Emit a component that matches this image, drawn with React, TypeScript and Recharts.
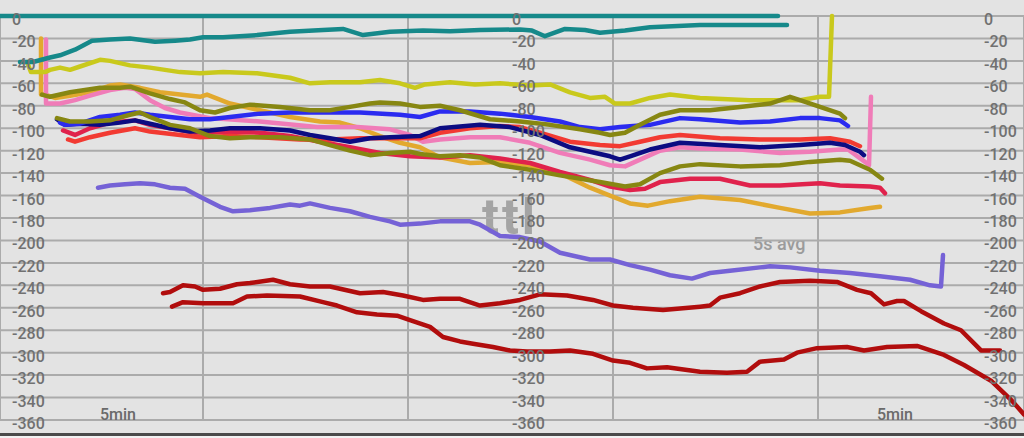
import { CartesianGrid, Line, LineChart, XAxis, YAxis } from 'recharts'

type Pt = [number, number]

// x = sample index across the strip, value = ttl
const yTicks = [0, -20, -40, -60, -80, -100, -120, -140, -160, -180, -200, -220, -240, -260, -280, -300, -320, -340, -360]
const xGridTicks = [203, 408, 613, 818]

const tealZero: Pt[] = [[0, 0], [778, 0]]
const teal: Pt[] = [[20, -41], [33, -41], [50, -37], [60, -35], [75, -30], [92, -22], [110, -21], [130, -20], [155, -23], [175, -22], [190, -21], [203, -19], [223, -19], [257, -17], [290, -14], [323, -12.5], [343, -11.5], [363, -17], [390, -14], [423, -13], [450, -13.5], [480, -12.5], [520, -12], [532, -13], [545, -18], [565, -11.5], [585, -12.5], [600, -15], [625, -13], [650, -10], [700, -8], [740, -8], [787, -8]]
const lime: Pt[] = [[27, -41], [31, -50], [45, -50], [50, -48], [60, -46], [70, -48], [80, -45], [100, -39], [110, -40], [130, -44], [150, -46], [180, -50], [200, -51], [223, -50], [257, -51], [290, -55], [310, -60], [330, -59], [360, -59], [380, -57], [400, -60], [415, -64], [425, -61], [450, -59], [475, -61], [500, -60], [530, -62], [550, -61], [570, -68], [590, -73], [605, -72], [615, -78], [630, -78], [650, -73], [670, -70], [700, -73], [750, -75], [800, -75], [820, -72], [829, -72], [832, 0]]
const gold: Pt[] = [[41, -20], [41, -70], [45, -70], [55, -73], [70, -71], [90, -68], [110, -62], [120, -61], [140, -64], [160, -68], [180, -70], [200, -72], [207, -70], [230, -78], [260, -84], [290, -90], [320, -94], [340, -95], [360, -100], [380, -107], [400, -113], [420, -117], [440, -126], [470, -131], [500, -130], [530, -133], [560, -140], [590, -153], [610, -160], [630, -167], [648, -169], [670, -165], [700, -161], [740, -164], [780, -171], [810, -176], [840, -175], [870, -171], [880, -170]]
const pink: Pt[] = [[46, -21], [46, -78], [50, -78], [60, -78], [75, -75], [90, -71], [110, -66], [125, -64], [135, -65], [150, -75], [165, -82], [180, -86], [210, -91], [260, -94], [317, -99], [357, -99], [390, -101], [410, -106], [423, -112], [440, -110], [470, -108], [500, -108], [530, -113], [560, -122], [590, -128], [610, -133], [625, -134], [640, -128], [660, -120], [680, -117], [700, -118], [740, -119], [780, -122], [810, -121], [840, -119], [848, -119], [865, -130], [869, -133], [871, -72]]
const oliveUpper: Pt[] = [[42, -70], [50, -72], [70, -68], [85, -66], [100, -64], [120, -64], [130, -63], [150, -69], [170, -74], [185, -77], [200, -84], [215, -86], [230, -82], [250, -79], [280, -81], [310, -84], [330, -84], [350, -81], [370, -78], [380, -77], [400, -78], [420, -81], [440, -80], [460, -84], [490, -92], [520, -94], [550, -97], [580, -101], [600, -104], [610, -106], [625, -104], [640, -97], [660, -88], [680, -84], [710, -84], [740, -81], [770, -78], [790, -72], [800, -75], [820, -81], [840, -87], [845, -91]]
const oliveLower: Pt[] = [[57, -91], [70, -94], [90, -94], [110, -93], [130, -88], [140, -86], [150, -90], [170, -97], [190, -100], [210, -107], [230, -109], [250, -108], [280, -108], [310, -110], [330, -115], [350, -120], [370, -124], [390, -122], [410, -121], [420, -123], [440, -125], [460, -124], [480, -126], [500, -133], [530, -137], [560, -142], [600, -148], [625, -152], [640, -150], [660, -140], [680, -134], [700, -132], [740, -134], [780, -133], [810, -130], [840, -128], [850, -129], [870, -137], [882, -145]]
const blue: Pt[] = [[60, -95], [65, -97], [80, -96], [100, -90], [120, -88], [135, -86], [150, -88], [170, -90], [190, -92], [210, -92], [230, -90], [260, -87], [290, -86], [330, -86], [360, -86], [400, -88], [420, -90], [440, -85], [470, -85], [500, -87], [530, -90], [560, -94], [580, -99], [600, -101], [620, -99], [650, -97], [680, -91], [700, -92], [740, -95], [770, -94], [800, -91], [820, -91], [840, -93], [848, -98]]
const navy: Pt[] = [[57, -92], [65, -97], [80, -96], [100, -97], [120, -95], [135, -93], [150, -96], [170, -100], [190, -103], [210, -102], [230, -100], [260, -100], [290, -102], [310, -106], [330, -109], [350, -112], [370, -109], [390, -108], [420, -107], [440, -100], [480, -97], [510, -99], [540, -106], [570, -117], [590, -121], [610, -125], [620, -128], [630, -125], [650, -119], [680, -113], [720, -115], [760, -117], [800, -115], [830, -113], [845, -115], [860, -121], [864, -124]]
const red: Pt[] = [[68, -110], [75, -112], [90, -108], [110, -104], [135, -100], [150, -103], [180, -106], [200, -108], [230, -107], [260, -108], [300, -110], [330, -110], [360, -109], [390, -109], [420, -109], [440, -104], [470, -100], [500, -98], [520, -99], [540, -104], [570, -112], [600, -115], [620, -116], [640, -112], [660, -108], [680, -106], [720, -109], [760, -110], [800, -110], [830, -109], [850, -112], [860, -116]]
const crimson: Pt[] = [[63, -102], [75, -106], [90, -100], [110, -95], [135, -93], [150, -97], [170, -100], [195, -104], [230, -103], [260, -104], [290, -107], [320, -112], [350, -117], [380, -122], [410, -125], [440, -126], [470, -124], [500, -127], [530, -131], [560, -139], [590, -146], [610, -152], [630, -155], [645, -154], [660, -148], [690, -145], [720, -145], [750, -151], [780, -151], [820, -149], [840, -151], [870, -152], [880, -153], [885, -158]]
const purple: Pt[] = [[98, -153], [110, -151], [125, -150], [140, -149], [155, -150], [170, -153], [185, -154], [200, -161], [220, -170], [233, -174], [250, -173], [270, -171], [290, -168], [300, -169], [310, -167], [330, -171], [350, -174], [370, -179], [390, -183], [400, -186], [420, -185], [440, -183], [470, -183], [480, -186], [490, -191], [500, -196], [520, -197], [540, -201], [560, -211], [590, -217], [610, -217], [630, -222], [650, -226], [670, -231], [692, -234], [710, -229], [730, -227], [760, -224], [770, -223], [790, -224], [820, -227], [850, -229], [880, -232], [910, -235], [930, -240], [941, -241], [943, -213]]
const darkRedUpper: Pt[] = [[163, -247], [170, -246], [183, -240], [195, -241], [203, -244], [220, -243], [237, -239], [250, -238], [273, -235], [290, -239], [310, -241], [330, -241], [340, -243], [360, -247], [383, -246], [403, -249], [423, -253], [440, -252], [460, -252], [480, -258], [500, -256], [520, -253], [540, -248], [567, -249], [593, -253], [613, -258], [633, -260], [663, -262], [700, -259], [710, -258], [720, -251], [740, -247], [760, -241], [780, -237], [810, -236], [837, -237], [857, -244], [871, -247], [884, -257], [897, -254], [904, -254], [921, -263], [944, -274], [961, -280], [981, -298], [1000, -298]]
const darkRedLower: Pt[] = [[172, -259], [183, -255], [203, -256], [233, -256], [247, -250], [267, -249], [300, -250], [323, -255], [337, -258], [357, -264], [377, -266], [397, -267], [410, -271], [430, -277], [443, -286], [460, -290], [473, -292], [493, -295], [510, -298], [527, -299], [550, -299], [570, -298], [593, -301], [613, -307], [630, -309], [647, -314], [667, -313], [700, -317], [727, -318], [747, -317], [760, -308], [784, -306], [797, -300], [817, -296], [847, -295], [864, -298], [887, -295], [917, -294], [944, -302], [964, -311], [991, -325], [1011, -342], [1024, -355]]

const series: { name: string; pts: Pt[]; color: string }[] = [
  { name: 'darkRedLower', pts: darkRedLower, color: '#b10d0d' },
  { name: 'darkRedUpper', pts: darkRedUpper, color: '#b10d0d' },
  { name: 'purple', pts: purple, color: '#7562d6' },
  { name: 'gold', pts: gold, color: '#e2a92e' },
  { name: 'pink', pts: pink, color: '#f07cb8' },
  { name: 'lime', pts: lime, color: '#c9c91c' },
  { name: 'crimson', pts: crimson, color: '#e0224c' },
  { name: 'red', pts: red, color: '#f23a32' },
  { name: 'navy', pts: navy, color: '#0c0c82' },
  { name: 'blue', pts: blue, color: '#2b2bf0' },
  { name: 'oliveLower', pts: oliveLower, color: '#878712' },
  { name: 'oliveUpper', pts: oliveUpper, color: '#878712' },
  { name: 'teal', pts: teal, color: '#16898a' },
  { name: 'tealZero', pts: tealZero, color: '#16898a' },
]

const labelX = [12, 512, 984]

function YTick(props: any) {
  const { y, payload } = props
  return (
    <g>
      {labelX.map((x) => (
        <text key={x} x={x} y={y + 9} fill="#717171" fontSize={16} fontWeight={500} fontFamily="Roboto">
          {payload.value}
        </text>
      ))}
    </g>
  )
}

export default function App() {
  return (
    <div style={{ position: 'fixed', left: 0, top: 0, width: 1024, height: 438, background: '#e3e3e3', overflow: 'hidden' }}>
      {/* watermark-ish labels sit under the series */}
      <svg width={1024} height={438} style={{ position: 'absolute', left: 0, top: 0 }}>
        <text x={482} y={234} fontSize={50} fontWeight={700} fill="#8f8f8f" fillOpacity={0.75} fontFamily="Roboto" letterSpacing={3}>ttl</text>
        <text x={753} y={250} fontSize={18} fontWeight={500} fill="#9b9b9b" fontFamily="Roboto">5s avg</text>
      </svg>
      <div style={{ position: 'absolute', left: 0, top: 0 }}>
        <LineChart width={1024} height={438} margin={{ top: 16, right: 0, bottom: 18, left: 0 }}>
          <CartesianGrid stroke="#ababab" strokeWidth={2} />
          <XAxis type="number" dataKey="t" domain={[0, 1024]} ticks={xGridTicks} hide allowDataOverflow />
          <YAxis
            type="number"
            domain={[-360, 0]}
            ticks={yTicks}
            interval={0}
            mirror
            axisLine={false}
            tickLine={false}
            tick={YTick}
          />
          {series.map((s) => (
            <Line
              key={s.name}
              data={s.pts.map(([t, v]) => ({ t, v }))}
              dataKey="v"
              type="linear"
              stroke={s.color}
              strokeWidth={4.5}
              strokeLinejoin="round"
              strokeLinecap="round"
              dot={false}
              activeDot={false}
              isAnimationActive={false}
            />
          ))}
        </LineChart>
      </div>
      <svg width={1024} height={438} style={{ position: 'absolute', left: 0, top: 0, pointerEvents: 'none' }}>
        <text x={100} y={420} fontSize={16} fontWeight={500} fill="#6a6a6a" fontFamily="Roboto">5min</text>
        <text x={877} y={420} fontSize={16} fontWeight={500} fill="#6a6a6a" fontFamily="Roboto">5min</text>
        <rect x={0} y={433} width={1024} height={3} fill="#4a4a4a" />
        <rect x={0} y={436} width={1024} height={2} fill="#f2f2f2" />
      </svg>
    </div>
  )
}
